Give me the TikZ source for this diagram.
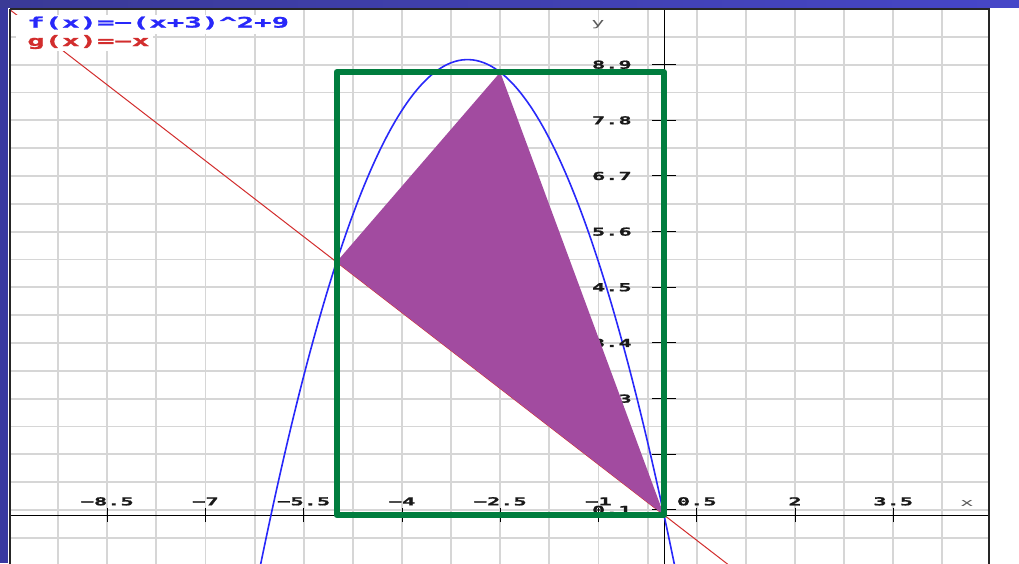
\documentclass[tikz,border=0pt]{standalone}
\usepackage{fontspec}
\newfontfamily\pixfont[FakeStretch=2.0,FakeBold=1.3]{DejaVu Sans Mono}
\newfontfamily\pixfontlight[FakeStretch=2.0]{DejaVu Sans Mono}
\definecolor{gridgray}{RGB}{214,214,214}
\definecolor{slideblue}{RGB}{56,56,160}
\definecolor{barleft}{RGB}{58,58,150}
\definecolor{barmid}{RGB}{128,128,228}
\definecolor{barright}{RGB}{70,70,200}
\definecolor{fblue}{RGB}{40,40,250}
\definecolor{gred}{RGB}{210,45,45}
\definecolor{boxgreen}{RGB}{0,125,62}
\definecolor{tripurple}{RGB}{162,75,160}
\definecolor{axisgray}{RGB}{90,90,90}
\begin{document}
\begin{tikzpicture}[x=1pt,y=-1pt,
  gridline/.style={draw=gridgray,line width=1.8pt},
  axisline/.style={draw=black,line width=1pt},
  tickmark/.style={draw=black,line width=1pt},
  ticklbl/.style={inner sep=0pt,font=\pixfont\bfseries\fontsize{11}{11}\selectfont,text=black!90},
  legendtxt/.style={inner sep=0pt,anchor=west,font=\pixfont\bfseries\fontsize{14.5}{14.5}\selectfont},
  axislbl/.style={inner sep=0pt,font=\pixfontlight\fontsize{11}{11}\selectfont,text=axisgray},
  redline/.style={draw=gred,line width=1pt},
  blueline/.style={draw=fblue,line width=1.6pt},
  trifill/.style={fill=tripurple},
  greenbox/.style={draw=boxgreen,line width=6pt,line join=round,line cap=round},
  frameline/.style={draw=black!85,line width=1.6pt}]
\useasboundingbox (0,0) rectangle (1019,563);
\fill[white] (0,0) rectangle (1019,563);
\fill[slideblue] (0,0) rectangle (8,563);
\shade[left color=barleft,middle color=barmid,right color=barright] (0,0) rectangle (1019,7);

\begin{scope}[shift={(664pt,-515pt)},x=65.5pt,y=50.6pt]
  \begin{scope}
    \clip (-9.985,-1.2) rectangle (4.962,10.0);
    \foreach \k in {0,...,18}
      \draw[gridline] ({-9.25+0.75*\k},-1.2) -- ++(0,11.3);
    \foreach \k in {0,...,18}
      \draw[gridline] (-10,{-0.45+0.55*\k}) -- ++(15,0);
    \draw[axisline] (-9.985,0) -- (4.962,0);
    \draw[axisline] (0,-1.2) -- (0,10);
    \draw[redline] (-10,10) -- (1.3,-1.3);
    \draw[blueline,domain=-6.25:0.25,samples=120,smooth] plot (\x,{9-(\x+3)*(\x+3)});
  \end{scope}
  % x ticks
  \foreach \v/\t/\n in {-8.5/−8.5/a,-7/−7/b,-5.5/−5.5/c,-4/−4/d,-2.5/−2.5/e,-1/−1/f,0.5/0.5/g,2/2/h,3.5/3.5/i}{
    \draw[tickmark] (\v,-0.14) -- (\v,0.14);
    \node[ticklbl] (xt\n) at (\v,0.27) {\t};
  }
  % y ticks
  \foreach \v/\n in {8.9/a,7.8/b,6.7/c,5.6/d,4.5/e,3.4/f,2.3/g,1.2/h,0.1/i}{
    \draw[tickmark] (-0.18,\v) -- (0.18,\v);
    \node[ticklbl,anchor=east] (yt\n) at (-0.49,\v) {\v};
  }
  \coordinate (A) at (-5,5);
  \coordinate (B) at (-2.5,8.75);
  \coordinate (O) at (0,0);
  \fill[trifill] (A) -- (B) -- (O) -- cycle;
  \coordinate (R1) at (-5,0);
  \coordinate (R2) at (0,8.75);
  \draw[greenbox] (R1) rectangle (R2);
\end{scope}

% axis names
\node[axislbl] (xname) at (967,503) {x};
\node[axislbl] (yname) at (598,25) {y};

% legend
\fill[white] (16,15) rectangle (297,34);
\fill[white] (16,34) rectangle (153,51);
\node[legendtxt,text=fblue] (legf) at (27,23) {f(x)=−(x+3)\textasciicircum2+9};
\node[legendtxt,text=gred] (legg) at (27,42) {g(x)=−x};

% frame
\draw[frameline] (10,9) -- (989,9) -- (989,575);
\draw[frameline] (10,9) -- (10,575);
\end{tikzpicture}
\end{document}
